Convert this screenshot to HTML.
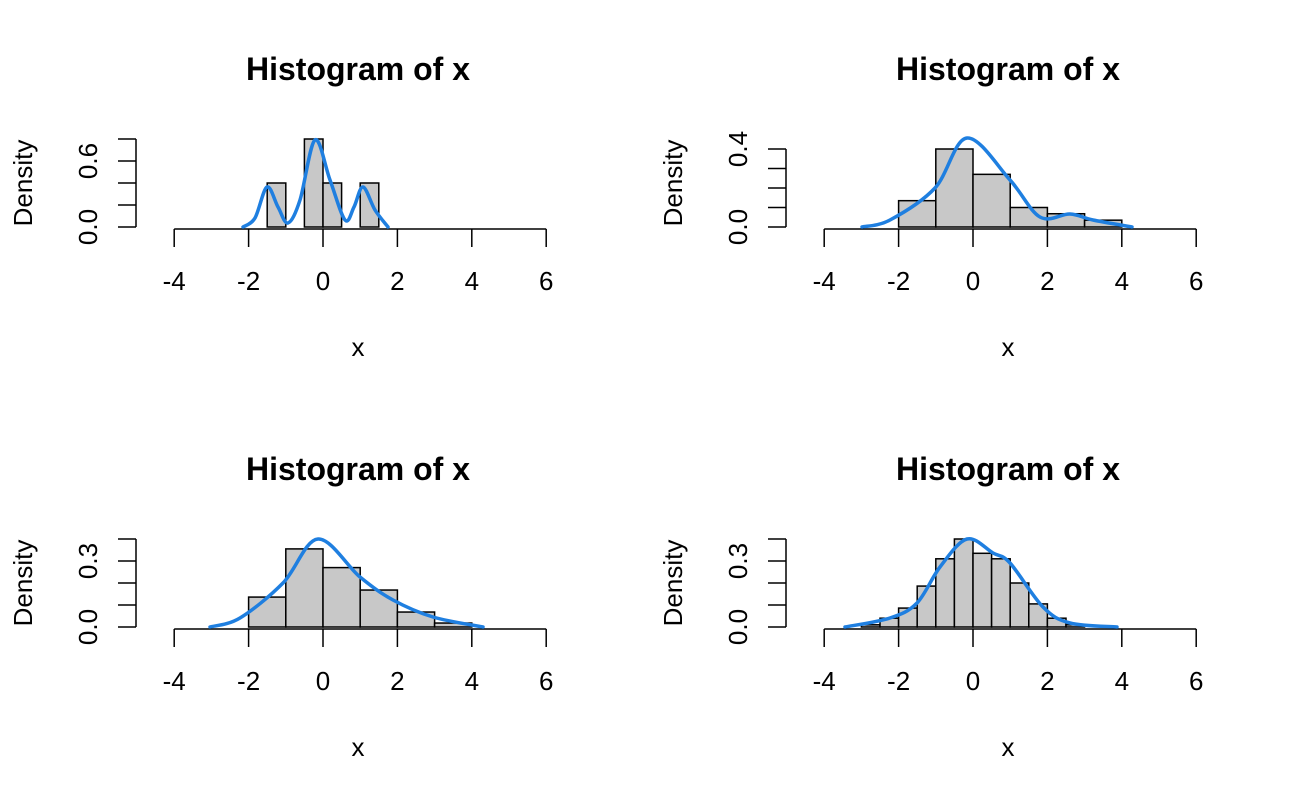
<!DOCTYPE html>
<html><head><meta charset="utf-8"><style>
body{margin:0;background:#fff}
svg{display:block;font-family:"Liberation Sans",Arial,sans-serif}
</style></head><body>
<svg id="s" width="1300" height="800" xmlns="http://www.w3.org/2000/svg">
<g font-size="26" fill="#000">
<text x="358" y="80" text-anchor="middle" font-weight="bold" font-size="32">Histogram of x</text>
<text x="1008" y="80" text-anchor="middle" font-weight="bold" font-size="32">Histogram of x</text>
<text x="358" y="480" text-anchor="middle" font-weight="bold" font-size="32">Histogram of x</text>
<text x="1008" y="480" text-anchor="middle" font-weight="bold" font-size="32">Histogram of x</text>
<text x="358" y="356" text-anchor="middle">x</text>
<text x="1008" y="356" text-anchor="middle">x</text>
<text x="358" y="756" text-anchor="middle">x</text>
<text x="1008" y="756" text-anchor="middle">x</text>
<text transform="translate(32,183) rotate(-90)" text-anchor="middle">Density</text>
<text transform="translate(682,183) rotate(-90)" text-anchor="middle">Density</text>
<text transform="translate(32,583) rotate(-90)" text-anchor="middle">Density</text>
<text transform="translate(682,583) rotate(-90)" text-anchor="middle">Density</text>
</g>
<g id="g"></g>
</svg>
<script>
var g=document.getElementById('g'),h='';
function P(x0,y0,ppu,bins,w,start,ylabels,yt,ypu,curve){
 for(var i=0;i<bins.length;i++){var x=x0+(start+i*w)*37.2,ht=bins[i]*ypu;
  h+='<rect x="'+x+'" y="'+(y0-ht)+'" width="'+(w*37.2)+'" height="'+ht+'" fill="#c8c8c8" stroke="#000" stroke-width="1.5"/>';}
 var ay=y0+2;h+='<line x1="'+(x0-4*37.2)+'" y1="'+ay+'" x2="'+(x0+6*37.2)+'" y2="'+ay+'" stroke="#000" stroke-width="1.5"/>';
 for(var v=-4;v<=6;v+=2){var x=x0+v*37.2;h+='<line x1="'+x+'" y1="'+ay+'" x2="'+x+'" y2="'+(ay+18)+'" stroke="#000" stroke-width="1.5"/><text x="'+x+'" y="'+(ay+61)+'" text-anchor="middle" font-size="26">'+v+'</text>';}
 var yx=x0-187,top=y0-yt[yt.length-1]*ypu;
 h+='<line x1="'+yx+'" y1="'+y0+'" x2="'+yx+'" y2="'+top+'" stroke="#000" stroke-width="1.5"/>';
 yt.forEach(function(t){var y=y0-t*ypu;h+='<line x1="'+(yx-18)+'" y1="'+y+'" x2="'+yx+'" y2="'+y+'" stroke="#000" stroke-width="1.5"/>';});
 ylabels.forEach(function(l){var y=y0-l[0]*ypu;h+='<text transform="translate('+(yx-39)+','+y+') rotate(-90)" text-anchor="middle" font-size="26">'+l[1]+'</text>';});
 var p=curve,d='M'+p[0][0]+','+p[0][1];
 for(var i=0;i<p.length-1;i++){var a=p[i-1]||p[i],b=p[i],c=p[i+1],e=p[i+2]||c;
  d+=' C'+(b[0]+(c[0]-a[0])/6)+','+(b[1]+(c[1]-a[1])/6)+' '+(c[0]-(e[0]-b[0])/6)+','+(c[1]-(e[1]-b[1])/6)+' '+c[0]+','+c[1];}
 h+='<path d="'+d+'" fill="none" stroke="#1f7fe0" stroke-width="3.5" stroke-linecap="round"/>';
}
P(323,227,0,[0.4,0,0.8,0.4,0,0.4],0.5,-1.5,[[0,'0.0'],[0.6,'0.6']],[0,0.2,0.4,0.6,0.8],110,
 [[243,227],[255,218],[267,187],[278,207],[288,223],[300,200],[315,140],[330,180],[345,220],[354,207],[363,187],[375,210],[388,227]]);
P(973,227,0,[0.135,0.4,0.27,0.1,0.068,0.035],1,-2,[[0,'0.0'],[0.4,'0.4']],[0,0.1,0.2,0.3,0.4],195,
 [[862,227],[890,220],[935,188],[967,138],[1010,180],[1040,217],[1070,214],[1093,220],[1132,227]]);
P(323,627,0,[0.136,0.355,0.27,0.168,0.068,0.018],1,-2,[[0,'0.0'],[0.3,'0.3']],[0,0.1,0.2,0.3,0.4],220,
 [[210,627],[240,618],[283,583],[318,539],[360,577],[393,600],[433,617],[483,627]]);
P(973,627,0,[0.01,0.04,0.086,0.186,0.31,0.4,0.335,0.31,0.2,0.105,0.04,0.01],0.5,-3,[[0,'0.0'],[0.3,'0.3']],[0,0.1,0.2,0.3,0.4],220,
 [[845,627],[890,618],[917,603],[940,567],[967,539],[993,553],[1010,563],[1043,607],[1070,623],[1117,627]]);
g.innerHTML=h;
</script>
</body></html>
